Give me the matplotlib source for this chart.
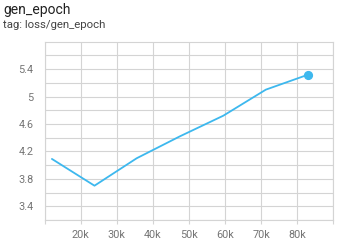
import matplotlib
matplotlib.use('Agg')
import matplotlib.pyplot as plt
import numpy as np

plt.rcParams['font.family'] = ['Roboto', 'DejaVu Sans']

# Data
steps = [12000, 23800, 35500, 47500, 59500, 71300, 83100]
loss = [4.09, 3.70, 4.10, 4.42, 4.72, 5.10, 5.32]

x_ticks = [10000, 20000, 30000, 40000, 50000, 60000, 70000, 80000, 90000]
x_labels = ['', '20k', '30k', '40k', '50k', '60k', '70k', '80k', '']
y_major = [3.4, 3.8, 4.2, 4.6, 5.0, 5.4]
y_labels = ['3.4', '3.8', '4.2', '4.6', '5', '5.4']
y_minor = [3.2, 3.6, 4.0, 4.4, 4.8, 5.2, 5.6]

line_color = '#3db8ee'
grid_color = '#d4d4d4'

fig = plt.figure(figsize=(3.4, 2.43), dpi=100)
fig.text(3 / 340, 1 - 3 / 243, 'gen_epoch', fontsize=10, color='#212121',
         ha='left', va='top')
fig.text(3 / 340, 1 - 20 / 243, 'tag: loss/gen_epoch', fontsize=8.2,
         color='#424242', ha='left', va='top')

ax = fig.add_axes([44.7 / 340, 1 - 220 / 243, (333.3 - 44.7) / 340, (220 - 42.3) / 243])
ax.plot(steps, loss, color=line_color, linewidth=1.3, solid_capstyle='round',
        solid_joinstyle='round', zorder=3)
ax.plot(steps[-1:], loss[-1:], 'o', color=line_color, markersize=5.6, zorder=4)

ax.set_xlim(10000, 90000)
ax.set_ylim(3.2, 5.79)

ax.set_xticks(x_ticks)
ax.set_xticklabels(x_labels)
ax.set_yticks(y_major)
ax.set_yticklabels(y_labels)
ax.set_yticks(y_minor, minor=True)

ax.grid(True, which='major', color=grid_color, linewidth=0.8)
ax.grid(True, which='minor', axis='y', color=grid_color, linewidth=0.8)
ax.tick_params(axis='x', length=3, width=0.8, color=grid_color, labelsize=7.8,
               labelcolor='#757575', pad=4)
ax.tick_params(axis='y', which='both', length=0, labelsize=7.8,
               labelcolor='#757575', pad=8)
for side in ['left', 'right', 'top', 'bottom']:
    ax.spines[side].set_color(grid_color)
    ax.spines[side].set_linewidth(0.8)

fig.savefig('out.png', dpi=100)
